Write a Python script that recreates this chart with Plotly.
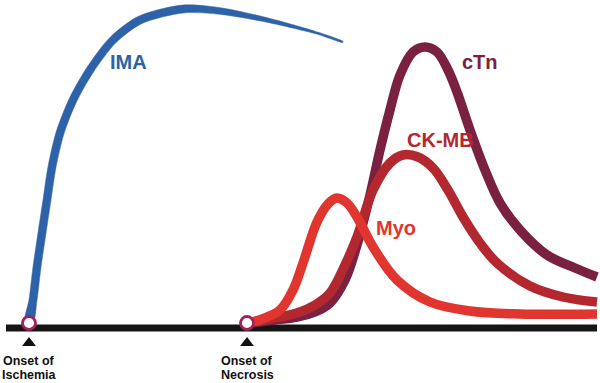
import numpy as np
import plotly.graph_objects as go

# ---- data (time in chart units, marker level above baseline) ----
ima_time  = [29, 33, 37, 42, 47, 52, 60, 73, 90, 113, 140, 183, 220, 267, 317, 343]
ima_level = [1, 23, 56, 90, 123, 156, 190, 223, 253, 283, 303, 314, 312, 303, 290, 281]

myo_time  = [247, 262, 280, 293, 303, 317, 328, 337, 347, 357, 373, 397, 430, 470, 520, 597]
myo_level = [0, 4, 13, 33, 60, 101, 119, 125, 120, 106, 76, 43, 21, 12, 9, 9]

ckmb_time  = [247, 275, 297, 315, 330, 345, 357, 373, 390, 403, 418, 433, 448, 463, 480, 497, 530, 563, 597]
ckmb_level = [0, 5, 10, 18, 30, 58, 86, 133, 160, 168, 166, 155, 133, 106, 80, 60, 37, 26, 21]

ctn_time  = [247, 275, 297, 315, 330, 345, 357, 370, 380, 390, 400, 413, 425, 437, 448, 457, 470, 485, 500, 520, 547, 575, 597]
ctn_level = [0, 3, 6, 11, 20, 43, 78, 128, 173, 213, 248, 271, 276, 271, 253, 231, 193, 153, 120, 93, 68, 55, 46]

onset_time   = [29, 247]
onset_line1  = ["Onset of", "Onset of"]
onset_line2  = ["Ischemia", "Necrosis"]

curve_labels = ["IMA", "cTn", "CK-MB", "Myo"]
label_time   = [128, 480, 440, 396]
label_level  = [261, 261, 183, 95]

BLUE = "#2e62a8"
MYO_C = "#e0362f"
CKMB_C = "#b3282f"
CTN_C = "#7a2142"
RING = "#a3215a"
label_colors = [BLUE, CTN_C, CKMB_C, MYO_C]

fig = go.Figure()

# baseline (time axis)
fig.add_trace(go.Scatter(x=[6, 597], y=[-5, -5], mode="lines",
                         line=dict(color="#151515", width=7), hoverinfo="skip"))

# IMA as tapered stroke
cx = np.array(ima_time, float)
cy = np.array(ima_level, float)
dx = np.gradient(cx)
dy = np.gradient(cy)
nn = np.hypot(dx, dy)
nx, ny = -dy / nn, dx / nn
w = np.where(cx <= 190, 8.0, 8.0 - (cx - 190) / (cx[-1] - 190) * 7.0)
ux, uy = cx + nx * w / 2, cy + ny * w / 2
lx, ly = cx - nx * w / 2, cy - ny * w / 2
px = np.concatenate([ux, lx[::-1], ux[:1]])
py = np.concatenate([uy, ly[::-1], uy[:1]])
fig.add_trace(go.Scatter(x=px, y=py, mode="lines", fill="toself", fillcolor=BLUE,
                         line=dict(color=BLUE, width=0.5, shape="spline", smoothing=0.8),
                         hoverinfo="skip"))

# biomarker curves (cTn bottom, CK-MB, Myo on top)
for t, lv, col in [(ctn_time, ctn_level, CTN_C),
                   (ckmb_time, ckmb_level, CKMB_C),
                   (myo_time, myo_level, MYO_C)]:
    fig.add_trace(go.Scatter(x=t, y=lv, mode="lines",
                             line=dict(color=col, width=9.5, shape="spline", smoothing=1.0),
                             hoverinfo="skip"))

# triangles
fig.add_trace(go.Scatter(x=onset_time, y=[-20, -20], mode="markers",
                         marker=dict(symbol="triangle-up", size=12, color="#111111"),
                         hoverinfo="skip"))

# onset rings
fig.add_trace(go.Scatter(x=onset_time, y=[0, 0], mode="markers",
                         marker=dict(symbol="circle", size=13, color="white",
                                     line=dict(color=RING, width=2.8)),
                         hoverinfo="skip"))

for t, l1, l2 in zip(onset_time, onset_line1, onset_line2):
    for txt, yy in [(l1, -38), (l2, -52)]:
        fig.add_annotation(x=t, y=yy, text="<b>" + txt + "</b>", showarrow=False,
                           font=dict(family="Liberation Sans, Arial", size=12.5, color="#111111"),
                           yanchor="middle", xanchor="center", borderpad=0)

for txt, t, lv, col in zip(curve_labels, label_time, label_level, label_colors):
    fig.add_annotation(x=t, y=lv, text="<b>" + txt + "</b>", showarrow=False,
                       font=dict(family="Liberation Sans, Arial", size=20, color=col),
                       xanchor="center", yanchor="middle")

fig.update_layout(
    width=600, height=383, margin=dict(l=0, r=0, t=0, b=0),
    paper_bgcolor="white", plot_bgcolor="white", showlegend=False,
    xaxis=dict(range=[0, 600], visible=False, fixedrange=True),
    yaxis=dict(range=[-60, 323], visible=False, fixedrange=True),
)

fig.write_html("out.html", config={"displayModeBar": False, "staticPlot": True},
               post_script="document.body.style.margin='0';document.body.style.overflow='hidden';")
